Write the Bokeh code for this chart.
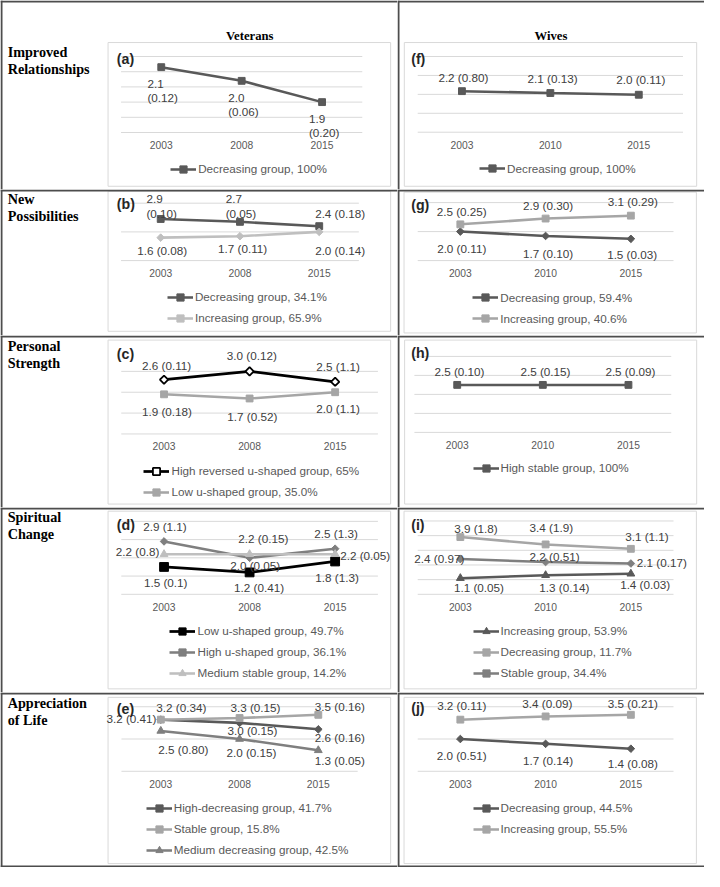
import math
from bokeh.plotting import figure
from bokeh.models import (Range1d, ColumnDataSource, LabelSet, Label, Legend,
                          LegendItem, BoxAnnotation)
from bokeh.layouts import column, row
from bokeh.embed import file_html
from bokeh.resources import INLINE
from bokeh.core.properties import value

# ---------------- data ----------------
YEARS_VET = ["2003", "2008", "2015"]
YEARS_WIV = ["2003", "2010", "2015"]

COL_TITLES = ["Veterans", "Wives"]
ROW_TITLES = [["Improved", "Relationships"], ["New", "Possibilities"],
              ["Personal", "Strength"], ["Spiritual", "Change"],
              ["Appreciation", "of Life"]]

# (a) Veterans - Improved Relationships
A_DEC = [2.13, 2.04, 1.90]
A_DEC_SE = ["0.12", "0.06", "0.20"]
A_NAMES = ["Decreasing group, 100%"]
A_GRID = [1.7, 1.8, 1.9, 2.0, 2.1, 2.2]

# (b) Veterans - New Possibilities
B_DEC = [2.9, 2.7, 2.4]
B_DEC_SE = ["0.10", "0.05", "0.18"]
B_INC = [1.6, 1.7, 2.0]
B_INC_SE = ["0.08", "0.11", "0.14"]
B_NAMES = ["Decreasing group, 34.1%", "Increasing group, 65.9%"]
B_GRID = [0, 2, 4]

# (c) Veterans - Personal Strength
C_HIGH = [2.6, 3.0, 2.5]
C_HIGH_SE = ["0.11", "0.12", "1.1"]
C_LOW = [1.9, 1.7, 2.0]
C_LOW_SE = ["0.18", "0.52", "1.1"]
C_NAMES = ["High reversed u-shaped group, 65%", "Low u-shaped group, 35.0%"]
C_GRID = [0, 1, 2, 3]

# (d) Veterans - Spiritual Change
D_LOW = [1.5, 1.2, 1.8]
D_LOW_SE = ["0.1", "0.41", "1.3"]
D_HIGH = [2.9, 2.0, 2.5]
D_HIGH_SE = ["1.1", "0.05", "1.3"]
D_MED = [2.2, 2.2, 2.2]
D_MED_SE = ["0.8", "0.15", "0.05"]
D_NAMES = ["Low u-shaped group, 49.7%", "High u-shaped group, 36.1%",
           "Medium stable group, 14.2%"]
D_GRID = [0, 1, 2, 3, 4]

# (e) Veterans - Appreciation of Life
E_HIGH = [3.2, 3.0, 2.6]
E_HIGH_SE = ["0.41", "0.15", "0.16"]
E_STAB = [3.2, 3.3, 3.5]
E_STAB_SE = ["0.34", "0.15", "0.16"]
E_MED = [2.5, 2.0, 1.3]
E_MED_SE = ["0.80", "0.15", "0.05"]
E_NAMES = ["High-decreasing group, 41.7%", "Stable group, 15.8%",
           "Medium decreasing group, 42.5%"]
E_GRID = [0, 2, 4]

# (f) Wives - Improved Relationships
F_DEC = [2.17, 2.07, 1.98]
F_DEC_SE = ["0.80", "0.13", "0.11"]
F_NAMES = ["Decreasing group, 100%"]
F_GRID = [0, 1, 2, 3, 4]

# (g) Wives - New Possibilities
G_DEC = [2.0, 1.7, 1.5]
G_DEC_SE = ["0.11", "0.10", "0.03"]
G_INC = [2.5, 2.9, 3.1]
G_INC_SE = ["0.25", "0.30", "0.29"]
G_NAMES = ["Decreasing group, 59.4%", "Increasing group, 40.6%"]
G_GRID = [0, 2, 4]

# (h) Wives - Personal Strength
H_STAB = [2.5, 2.5, 2.5]
H_STAB_SE = ["0.10", "0.15", "0.09"]
H_NAMES = ["High stable group, 100%"]
H_GRID = [0, 1, 2, 3, 4]

# (i) Wives - Spiritual Change
I_INC = [1.1, 1.3, 1.4]
I_INC_SE = ["0.05", "0.14", "0.03"]
I_DEC = [3.9, 3.4, 3.1]
I_DEC_SE = ["1.8", "1.9", "1.1"]
I_STAB = [2.4, 2.2, 2.1]
I_STAB_SE = ["0.97", "0.51", "0.17"]
I_NAMES = ["Increasing group, 53.9%", "Decreasing group, 11.7%", "Stable group, 34.4%"]
I_GRID = [0, 1, 2, 3, 4, 5]

# (j) Wives - Appreciation of Life
J_DEC = [2.0, 1.7, 1.4]
J_DEC_SE = ["0.51", "0.14", "0.08"]
J_INC = [3.2, 3.4, 3.5]
J_INC_SE = ["0.11", "0.09", "0.21"]
J_NAMES = ["Decreasing group, 44.5%", "Increasing group, 55.5%"]
J_GRID = [0, 2, 4]

# ---------------- styles / layout (reference pixel units) ----------------
K = 704 / 720.0
FONT = "Liberation Sans"
SERIF = "Liberation Serif"
DARK, LIGHT, MID, PALE, BLACK = "#595959", "#A6A6A6", "#7F7F7F", "#BFBFBF", "#000000"
TXT = "#404040"
GRIDC = "#D9D9D9"
RULE = "#4D4D4D"

COL_EDGES = {"vet": (0, 406), "wiv": (406, 720)}
ROW_EDGES = [0, 193, 343, 519, 708, 887]
ROW_TITLE_Y = [53, 203.3, 353.3, 528.3, 718.3]
HEADER_Y = 36
HEADER_X = {"vet": 255, "wiv": 563}
YEAR_DY = 12.7

LAYOUT = {
    "a": dict(gx=(123.3, 370.0), gy=(57.3, 135.0), box=(110, 43, 399, 190), letter=(119, 60), legend=(174, 172.7)),
    "b": dict(gx=(123.3, 366.5), gy=(207.3, 266.0), box=(110, 195, 399, 338.3), letter=(119, 208.3), legend=(170.7, 303.3)),
    "c": dict(gx=(123.5, 386.0), gy=(379.3, 443.3), box=(110, 347.3, 399, 515), letter=(119, 361.7), legend=(146.7, 481.7)),
    "d": dict(gx=(123.5, 386.0), gy=(532.7, 607.3), box=(110, 522.3, 399, 704), letter=(119, 536.7), legend=(173.3, 645)),
    "e": dict(gx=(123.7, 365.3), gy=(722.3, 788.3), box=(110, 712.7, 399, 882.7), letter=(119, 725), legend=(149, 826)),
    "f": dict(gx=(426.7, 698.0), gy=(57.3, 134.7), box=(413, 43, 712, 190), letter=(420, 60), legend=(490, 172.3)),
    "g": dict(gx=(426.7, 688.3), gy=(206.7, 266.0), box=(412.7, 196, 711.7, 340), letter=(420, 209.3), legend=(483, 304)),
    "h": dict(gx=(423.3, 686.0), gy=(364.0, 441.7), box=(413.3, 347.3, 712, 515), letter=(420, 360.7), legend=(483.3, 478.3)),
    "i": dict(gx=(426.7, 688.3), gy=(532.3, 607.3), box=(412.7, 522.3, 711.7, 704), letter=(420, 536.7), legend=(483.3, 645)),
    "j": dict(gx=(426.7, 688.3), gy=(722.3, 788.3), box=(412.7, 712.7, 711.7, 882.7), letter=(420, 723.3), legend=(483.3, 826)),
}

NL = "\n"
SP = " "


def S(v):
    return v * K


def marker_kw(kind, color):
    if kind == "sq":
        return dict(marker="square", size=S(7), fill_color=color, line_color=color)
    if kind == "bigsq":
        return dict(marker="square", size=S(9), fill_color=color, line_color=color)
    if kind == "dia":
        return dict(marker="square", angle=math.pi / 4, size=S(5.5), fill_color=color, line_color=color)
    if kind == "odia":
        return dict(marker="square", angle=math.pi / 4, size=S(6), fill_color="white",
                    line_color=color, line_width=1.8)
    if kind == "tri":
        return dict(marker="triangle", size=S(8), fill_color=color, line_color=color)


def build_panel(key, col, r, years, grid, series, names, header=False, last=False):
    L = LAYOUT[key]
    X0 = round(S(COL_EDGES[col][0])); X1 = round(S(COL_EDGES[col][1]))
    Y0 = round(S(ROW_EDGES[r])); Y1 = round(S(ROW_EDGES[r + 1]))
    W, H = X1 - X0, Y1 - Y0
    n = len(years)
    idx = list(range(n))                      # category positions
    gl = S(L["gx"][0]) - X0
    gr = S(L["gx"][1]) - X0
    u = (gr - gl) / n                         # px per category
    x_start = -0.5 - gl / u
    x_end = x_start + W / u
    gt = S(L["gy"][0]) - Y0
    gb = S(L["gy"][1]) - Y0
    t0, t1 = grid[0], grid[-1]
    ppu = (gb - gt) / (t1 - t0)
    y_start = t0 - (H - gb) / ppu
    y_end = t1 + gt / ppu

    p = figure(width=W, height=H, x_range=Range1d(x_start, x_end),
               y_range=Range1d(y_start, y_end), output_backend="svg",
               toolbar_location=None, tools="", x_axis_location=None,
               y_axis_location=None, min_border=0, min_border_left=0,
               min_border_right=0, min_border_top=0, min_border_bottom=0)
    p.outline_line_color = None
    p.background_fill_color = "white"
    p.border_fill_color = "white"
    p.grid.visible = False

    def sx(a):
        return S(a) - X0

    def sy(a):
        return H - (S(a) - Y0)

    def box(l, t, rr, b, **kw):
        p.add_layout(BoxAnnotation(left=l, right=rr, top=t, bottom=b,
                                   left_units="screen", right_units="screen",
                                   top_units="screen", bottom_units="screen", **kw))

    # panel frame (light) and table rules (dark)
    bx = L["box"]
    box(sx(bx[0]), sy(bx[1]), sx(bx[2]), sy(bx[3]), fill_color=None, fill_alpha=0,
        line_color=GRIDC, line_alpha=1, line_width=1)
    rule = dict(fill_color=RULE, fill_alpha=1, line_color=None)
    box(0, H, W, H - 2, **rule)                    # top rule
    box(0, H, 2, 0, **rule)                        # left rule / column separator
    if last:
        box(0, 2, W, 0, **rule)                    # bottom rule

    # horizontal gridlines across the category span
    gsrc = ColumnDataSource(dict(x0=[-0.5] * len(grid), x1=[n - 0.5] * len(grid),
                                 y=grid))
    p.segment(x0="x0", x1="x1", y0="y", y1="y", source=gsrc, line_color=GRIDC,
              line_width=1)

    # category (year) labels
    ysrc = ColumnDataSource(dict(x=idx, y=[t0] * n, text=years))
    p.add_layout(LabelSet(x="x", y="y", text="text", source=ysrc, y_offset=-S(YEAR_DY),
                          text_align="center", text_baseline="middle",
                          text_font=value(FONT), text_font_size=f"{S(10.5):.1f}px",
                          text_color=DARK))

    items = []
    for s, name in zip(series, names):
        vals, ses, color, kind, offs = s
        texts = [f"{v:.1f}{o[2]}({se})" for v, se, o in zip(vals, ses, offs)]
        src = ColumnDataSource(dict(x=idx, year=years, y=vals, text=texts,
                                    xo=[S(o[0]) for o in offs],
                                    yo=[-S(o[1]) for o in offs]))
        lw = S(2.6) if color != BLACK else S(2.8)
        lr = p.line("x", "y", source=src, line_color=color, line_width=lw)
        mr = p.scatter("x", "y", source=src, **marker_kw(kind, color))
        p.add_layout(LabelSet(x="x", y="y", text="text", x_offset="xo", y_offset="yo",
                              source=src, text_align="center", text_baseline="middle",
                              text_font=value(FONT), text_font_size=f"{S(12):.1f}px",
                              text_color=TXT, text_line_height=1.12))
        items.append(LegendItem(label=name, renderers=[lr, mr]))

    m = len(items)
    top_local = S(L["legend"][1]) - Y0 - 9
    bottom_local = top_local + m * 18 + (m - 1) * 3
    legend = Legend(items=items, location=(sx(L["legend"][0]), H - bottom_local),
                    padding=0, margin=0, spacing=3, label_height=18, glyph_height=18,
                    glyph_width=round(S(27)), label_standoff=2, border_line_color=None,
                    background_fill_alpha=0, label_text_font=FONT,
                    label_text_font_size=f"{S(12):.1f}px", label_text_color=DARK)
    p.add_layout(legend)

    p.add_layout(Label(x=sx(L["letter"][0]), y=sy(L["letter"][1]), x_units="screen",
                       y_units="screen", text=f"({key})", text_font=FONT,
                       text_font_style="bold", text_font_size=f"{S(14.5):.1f}px",
                       text_baseline="middle", text_align="left", text_color="#262626"))

    if col == "vet":
        for i, line in enumerate(ROW_TITLES[r]):
            p.add_layout(Label(x=sx(7.3), y=sy(ROW_TITLE_Y[r] + i * 17.5), x_units="screen",
                               y_units="screen", text=line, text_font=SERIF,
                               text_font_style="bold", text_font_size=f"{S(14.5):.1f}px",
                               text_baseline="middle", text_align="left", text_color="black"))
    if header:
        p.add_layout(Label(x=sx(HEADER_X[col]), y=sy(HEADER_Y), x_units="screen",
                           y_units="screen", text=COL_TITLES[0 if col == "vet" else 1],
                           text_font=SERIF, text_font_style="bold",
                           text_font_size=f"{S(13):.1f}px", text_baseline="middle",
                           text_align="center", text_color="black"))
    return p


# series: (values, se, color, marker kind, label offsets (dx, dy, separator))
pa = build_panel("a", "vet", 0, YEARS_VET, A_GRID, [
    (A_DEC, A_DEC_SE, DARK, "sq", [(1.5, 24, NL), (1.8, 24, NL), (2.2, 24, NL)]),
], A_NAMES, header=True)

pb = build_panel("b", "vet", 1, YEARS_VET, B_GRID, [
    (B_DEC, B_DEC_SE, DARK, "sq", [(1, -13.2, NL), (1, -16, NL), (21.4, -12.5, SP)]),
    (B_INC, B_INC_SE, PALE, "dia", [(1.5, 13.4, SP), (2.8, 12.2, SP), (21.4, 19.3, SP)]),
], B_NAMES)

pc = build_panel("c", "vet", 2, YEARS_VET, C_GRID, [
    (C_HIGH, C_HIGH_SE, BLACK, "odia", [(2.7, -14.5, SP), (2.3, -16, SP), (3, -15.7, SP)]),
    (C_LOW, C_LOW_SE, LIGHT, "sq", [(3, 17.9, SP), (2.8, 18.9, SP), (3, 16.6, SP)]),
], C_NAMES)

pd_ = build_panel("d", "vet", 3, YEARS_VET, D_GRID, [
    (D_LOW, D_LOW_SE, BLACK, "bigsq", [(1.7, 15.7, SP), (9.7, 15.1, SP), (2, 16.3, SP)]),
    (D_HIGH, D_HIGH_SE, MID, "dia", [(1, -14.9, SP), (5.7, 7.7, SP), (1, -15.7, SP)]),
    (D_MED, D_MED_SE, PALE, "tri", [(-27, -2.3, SP), (14, -16.3, SP), (30.7, 1.4, SP)]),
], D_NAMES)

pe = build_panel("e", "vet", 4, YEARS_VET, E_GRID, [
    (E_HIGH, E_HIGH_SE, DARK, "dia", [(-30, -1.5, SP), (13.2, 7.9, SP), (22, 8.6, SP)]),
    (E_STAB, E_STAB_SE, LIGHT, "sq", [(21, -12.2, SP), (16.3, -10.6, SP), (22, -8.3, SP)]),
    (E_MED, E_MED_SE, MID, "tri", [(23, 19, SP), (12.2, 13.7, SP), (22, 10.4, SP)]),
], E_NAMES, last=True)

pf = build_panel("f", "wiv", 0, YEARS_WIV, F_GRID, [
    (F_DEC, F_DEC_SE, DARK, "sq", [(1.5, -14.4, SP), (2.3, -14.7, SP), (2, -15.3, SP)]),
], F_NAMES, header=True)

pg = build_panel("g", "wiv", 1, YEARS_WIV, G_GRID, [
    (G_DEC, G_DEC_SE, DARK, "dia", [(1.4, 17.7, SP), (2.5, 17.5, SP), (1.3, 16.2, SP)]),
    (G_INC, G_INC_SE, LIGHT, "sq", [(1.4, -12.9, SP), (2.5, -13.7, SP), (2, -14, SP)]),
], G_NAMES)

ph = build_panel("h", "wiv", 2, YEARS_WIV, H_GRID, [
    (H_STAB, H_STAB_SE, DARK, "sq", [(2.3, -14, SP), (2.7, -14, SP), (2, -14, SP)]),
], H_NAMES)

pi = build_panel("i", "wiv", 3, YEARS_WIV, I_GRID, [
    (I_INC, I_INC_SE, DARK, "tri", [(19, 9.9, SP), (19.2, 12.9, SP), (14.6, 11, SP)]),
    (I_DEC, I_DEC_SE, LIGHT, "sq", [(16, -8.8, SP), (5.8, -17, SP), (16.5, -12.5, SP)]),
    (I_STAB, I_STAB_SE, MID, "dia", [(-21.5, -0.3, SP), (9.2, -6, SP), (31.6, -0.8, SP)]),
], I_NAMES)

pj = build_panel("j", "wiv", 4, YEARS_WIV, J_GRID, [
    (J_DEC, J_DEC_SE, DARK, "dia", [(1.4, 16.4, SP), (2.5, 17, SP), (2, 15.5, SP)]),
    (J_INC, J_INC_SE, LIGHT, "sq", [(1.4, -14.8, SP), (1.8, -13.2, SP), (2, -11.6, SP)]),
], J_NAMES, last=True)

layout = column(row(pa, pf), row(pb, pg), row(pc, ph), row(pd_, pi), row(pe, pj))

with open("out.html", "w") as fh:
    fh.write(file_html(layout, INLINE, title="Trajectories"))
